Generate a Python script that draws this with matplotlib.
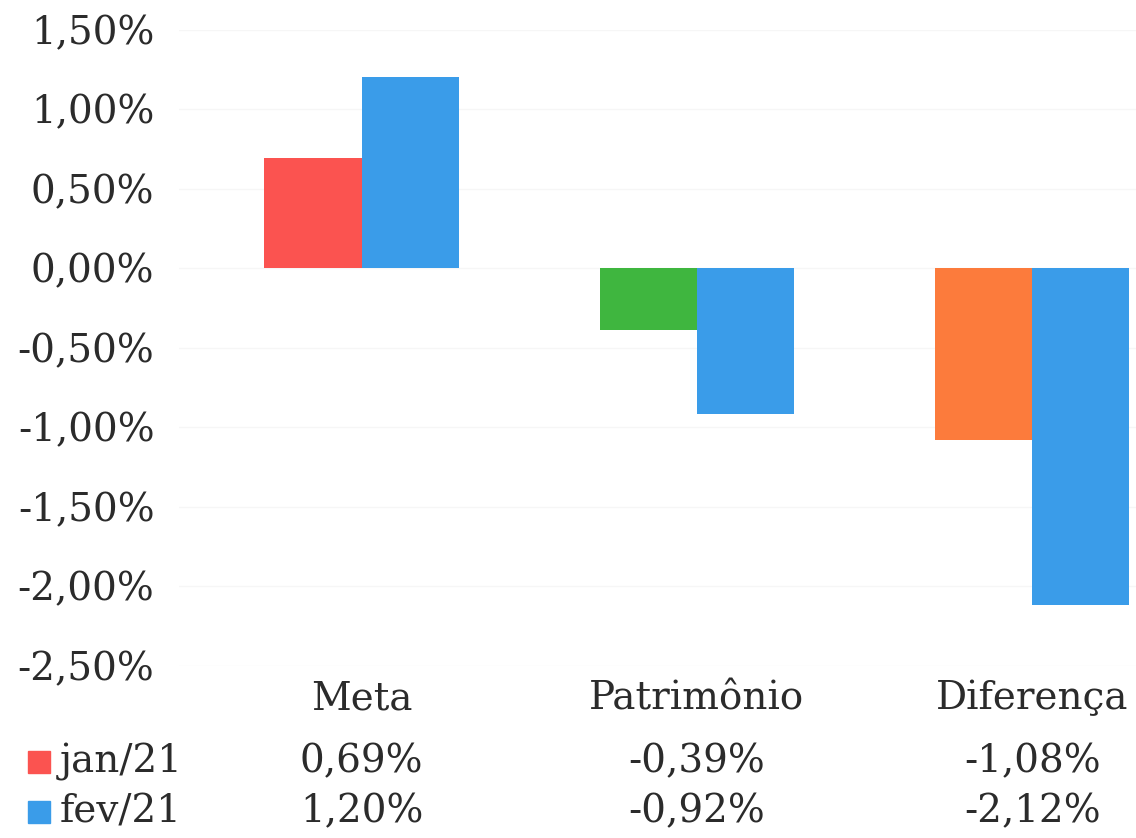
import numpy as np
import matplotlib.pyplot as plt
import matplotlib.transforms as mtransforms
from matplotlib.patches import Rectangle

plt.rcParams['font.family'] = ['DejaVu Serif']

# data
CATEGORIAS = ['Meta', 'Patrimônio', 'Diferença']
JAN_21 = [0.69, -0.39, -1.08]
FEV_21 = [1.20, -0.92, -2.12]
SERIES = ['jan/21', 'fev/21']
Y_TICKS = [1.5, 1.0, 0.5, 0.0, -0.5, -1.0, -1.5, -2.0, -2.5]

JAN_CORES = ['#fb5350', '#3fb63f', '#fc7b3c']
FEV_COR = '#3a9ce9'
TEXTO = '#2b2b2b'
FONTE = 28


def fmt_pct(v):
    return ('%.2f%%' % v).replace('.', ',')


FIG = plt.figure(figsize=(11.36, 8.38), dpi=100)
AX = FIG.add_axes([0.158, 1 - 665.5 / 838, 0.842, 636 / 838])

x = np.arange(len(CATEGORIAS))
largura = 0.29

AX.bar(x - largura / 2, JAN_21, largura, color=JAN_CORES, zorder=2)
AX.bar(x + largura / 2, FEV_21, largura, color=FEV_COR, zorder=2)

AX.set_xlim(-0.543, 2.31)
AX.set_ylim(-2.5, 1.5)
AX.set_yticks(Y_TICKS)
AX.set_yticklabels([fmt_pct(v) for v in Y_TICKS], fontsize=FONTE, color=TEXTO)
AX.tick_params(axis='y', length=0, pad=18)
AX.set_xticks([])
AX.grid(axis='y', color='#f6f6f6', linewidth=1, zorder=0)
for lado in AX.spines.values():
    lado.set_visible(False)

# data table below the plot
trans = mtransforms.blended_transform_factory(AX.transData, FIG.transFigure)
linhas_y = [1 - 699 / 838, 1 - 762 / 838, 1 - 812 / 838]
for i, cat in enumerate(CATEGORIAS):
    AX.text(i, linhas_y[0], cat, transform=trans, ha='center', va='center',
            fontsize=FONTE, color=TEXTO, clip_on=False)
    AX.text(i, linhas_y[1], fmt_pct(JAN_21[i]), transform=trans,
            ha='center', va='center', fontsize=FONTE, color=TEXTO,
            clip_on=False)
    AX.text(i, linhas_y[2], fmt_pct(FEV_21[i]), transform=trans,
            ha='center', va='center', fontsize=FONTE, color=TEXTO,
            clip_on=False)

# legend keys
cores_leg = [JAN_CORES[0], FEV_COR]
for k, nome in enumerate(SERIES):
    yc = linhas_y[k + 1]
    FIG.patches.append(Rectangle((28 / 1136, yc - 11 / 838), 22 / 1136,
                                 22 / 838, transform=FIG.transFigure,
                                 color=cores_leg[k]))
    FIG.text(60 / 1136, yc, nome, ha='left', va='center', fontsize=FONTE,
             color=TEXTO)

FIG.savefig('out.png', dpi=100)
